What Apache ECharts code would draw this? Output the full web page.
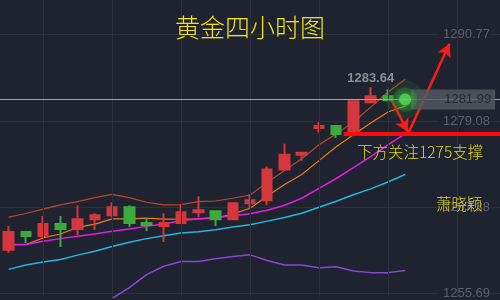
<!DOCTYPE html>
<html>
<head>
<meta charset="utf-8">
<script src="https://cdn.jsdelivr.net/npm/echarts@6/dist/echarts.min.js"></script>
<style>html,body{margin:0;padding:0;background:#1f2330;}#c{width:500px;height:300px;}</style>
</head>
<body>
<div id="c"></div>
<script>
// ---- data ----
const categories = ['01','02','03','04','05','06','07','08','09','10','11','12','13','14','15','16','17','18','19','20','21','22','23','24','25','26','27','28','29'];
// [open, close, low, high]
const candles = [
 [1261.61,1264.03,1261.20,1264.83],
 [1264.03,1263.49,1262.55,1264.16],
 [1263.49,1265.10,1263.22,1266.18],
 [1265.10,1264.43,1262.01,1266.18],
 [1264.43,1265.77,1263.62,1267.66],
 [1265.77,1266.31,1264.29,1266.58],
 [1266.31,1267.39,1266.04,1268.06],
 [1267.39,1265.24,1264.70,1267.66],
 [1265.24,1264.97,1264.16,1265.91],
 [1264.83,1265.24,1262.68,1266.58],
 [1265.24,1266.71,1265.24,1267.79],
 [1266.71,1266.98,1266.04,1268.86],
 [1266.85,1265.77,1264.83,1266.98],
 [1265.77,1267.92,1265.64,1268.06],
 [1267.92,1268.33,1267.25,1269.13],
 [1268.33,1272.49,1267.66,1272.90],
 [1272.49,1274.51,1272.49,1275.99],
 [1274.51,1274.78,1273.70,1274.91],
 [1278.14,1278.41,1277.47,1278.95],
 [1278.41,1277.33,1276.80,1278.41],
 [1277.47,1281.77,1277.47,1281.90],
 [1281.63,1282.44,1281.63,1283.64],
 [1282.44,1281.90,1281.90,1283.38],
 [1281.90,1281.99,1281.85,1282.05]
];
const maA = [1266.04,1266.54,1267.12,1267.70,1268.15,1268.69,1269.13,1268.69,1268.06,1267.70,1267.75,1268.15,1268.23,1268.60,1269.04,1270.75,1272.36,1273.97,1275.85,1277.33,1278.95,1280.96,1282.98,1284.73];
const maB = [1262.32,1262.32,1263.22,1263.76,1264.66,1265.10,1265.81,1265.81,1265.91,1265.77,1265.77,1265.81,1265.91,1266.45,1267.25,1268.86,1270.48,1271.82,1273.70,1275.59,1277.20,1278.81,1280.29,1281.10];
const maC = [1262.32,1262.32,1262.78,1263.13,1263.45,1263.76,1264.12,1264.43,1264.79,1265.10,1265.54,1265.81,1266.00,1266.22,1266.49,1266.98,1267.66,1268.60,1269.94,1271.28,1272.76,1274.24,1275.85,1277.33];
const maD = [1258.96,1259.55,1259.95,1260.30,1260.89,1261.43,1262.05,1262.64,1263.13,1263.53,1263.89,1264.07,1264.34,1264.70,1265.01,1265.50,1265.98,1266.58,1267.39,1268.19,1269.07,1269.87,1270.81,1271.82];
const maE = [null,null,null,null,null,null,1255.02,1256.50,1258.25,1259.39,1260.03,1260.03,1260.40,1260.71,1260.93,1260.17,1259.55,1259.55,1259.19,1259.32,1258.74,1258.52,1258.52,1258.82];
const yTicks = [1255.69, 1267.38, 1279.08, 1290.77];
const xGridIdx = [2, 6, 10, 14, 18, 22, 26];
const lastPrice = 1281.99;
const lastIdx = 23;
const supportLine = [[19.43, 1277.33], [28.5, 1277.33]];
const arrowDown = [[22.24, 1281.77], [23.16, 1277.60]];
const arrowUp = [[23.22, 1277.60], [25.57, 1289.56]];
const titleText = '黄金四小时图';
const noteText = '下方关注1275支撑';
const authorText = '萧晓颖';
const yMin = 1255.15, yMax = 1295.48;

const chart = echarts.init(document.getElementById('c'), null, {renderer: 'canvas'});
const yellow = '#efe31c';
const cjk = "'Noto Sans CJK SC Light', 'Noto Sans CJK SC', sans-serif";
const arrowStyle = {color: '#ff1a1a', width: 2.5, type: 'solid'};

chart.setOption({
  animation: false,
  backgroundColor: '#1f2330',
  title: [
    {text: titleText, left: 'center', top: 15, padding: 0,
     textStyle: {color: yellow, fontSize: 25, fontWeight: 300, fontFamily: cjk}},
    {text: noteText, left: 357, top: 144, padding: 0,
     textStyle: {color: '#e3d91e', fontSize: 15.5, fontWeight: 300, fontFamily: cjk}},
    {text: authorText, left: 436, top: 196, padding: 0,
     textStyle: {color: '#e3d91e', fontSize: 15.5, fontWeight: 300, fontFamily: cjk}}
  ],
  grid: {left: -3.7, top: 0, width: 504.6, height: 300},
  xAxis: [
    {type: 'category', data: categories, boundaryGap: true, show: false},
    {type: 'value', min: -0.5, max: 28.5, show: false}
  ],
  yAxis: {
    type: 'value', position: 'right', min: yMin, max: yMax,
    axisLine: {show: false},
    axisTick: {show: false, customValues: yTicks},
    axisLabel: {customValues: yTicks, inside: true, margin: 10, color: '#5c606a', fontSize: 13,
      fontFamily: 'Liberation Sans', backgroundColor: '#1f2330', padding: [0, 0, 0, 5],
      formatter: v => v.toFixed(2)},
    splitLine: {show: true, lineStyle: {color: '#2c303c', width: 1}}
  },
  series: [
    {type: 'line', xAxisIndex: 1, data: [], z: 1, silent: true,
     markLine: {silent: true, symbol: 'none', label: {show: false},
       lineStyle: {color: '#2c303c', width: 1, type: 'solid'},
       data: xGridIdx.map(v => ({xAxis: v}))}},
    {type: 'line', xAxisIndex: 1, data: [], z: 2, silent: true,
     markLine: {silent: true, symbol: 'none', label: {show: false},
       lineStyle: {color: '#a9a9ab', width: 1, type: 'solid'},
       data: [{yAxis: lastPrice}]}},
    {type: 'line', data: maA, symbol: 'none', z: 3, lineStyle: {color: '#bd452c', width: 1.2}},
    {type: 'line', data: maB, symbol: 'none', z: 3, lineStyle: {color: '#ef7c10', width: 1.2}},
    {type: 'line', data: maC, symbol: 'none', z: 3, lineStyle: {color: '#e41de4', width: 1.5}},
    {type: 'line', data: maD, symbol: 'none', z: 3, lineStyle: {color: '#22b6df', width: 1.5}},
    {type: 'line', data: maE, symbol: 'none', z: 3, lineStyle: {color: '#8a45da', width: 1.5}},
    {type: 'candlestick', data: candles, barWidth: 10, z: 4, clip: false,
     itemStyle: {color: '#d4373c', color0: '#3daa3d', borderColor: '#d4373c', borderColor0: '#3daa3d', borderWidth: 2},
     markPoint: {symbol: 'circle', symbolSize: 1, itemStyle: {color: 'rgba(0,0,0,0)'},
       label: {show: true, position: 'top', distance: 2, color: '#8b8e95', fontSize: 13, fontWeight: 'bold',
         fontFamily: 'Liberation Sans', formatter: p => Number(p.value).toFixed(2)},
       data: [{type: 'max', valueDim: 'highest'}]}},
    {type: 'line', xAxisIndex: 1, data: [], z: 6, silent: true,
     markLine: {silent: true, label: {show: false},
       data: [
         [{coord: supportLine[0], symbol: 'none', lineStyle: {color: '#ff0a0a', width: 4, type: 'solid'}},
          {coord: supportLine[1], symbol: 'none'}],
         [{coord: arrowDown[0], symbol: 'none', lineStyle: arrowStyle},
          {coord: arrowDown[1], symbol: 'arrow', symbolSize: [11, 13]}],
         [{coord: arrowUp[0], symbol: 'none', lineStyle: arrowStyle},
          {coord: arrowUp[1], symbol: 'arrow', symbolSize: [11, 13]}]
       ]}},
    {type: 'scatter', xAxisIndex: 1, z: 7, silent: true, symbolSize: 0,
     data: [[lastIdx, lastPrice]],
     label: {show: true, position: 'right', distance: 6, formatter: () => lastPrice.toFixed(2),
       backgroundColor: '#555963', color: '#1c1e25', fontSize: 13, fontFamily: 'Liberation Sans',
       padding: [4, 4, 3, 33], lineHeight: 13}},
    {type: 'scatter', xAxisIndex: 1, z: 8, silent: true,
     data: [
       {value: [lastIdx, lastPrice], symbolSize: 38, itemStyle: {color: 'rgba(45,130,50,0.22)'}},
       {value: [lastIdx, lastPrice], symbolSize: 24, itemStyle: {color: 'rgba(55,160,60,0.35)'}},
       {value: [lastIdx, lastPrice], symbolSize: 12, itemStyle: {color: '#55d455', shadowBlur: 8, shadowColor: '#44ee44'}}
     ]}
  ]
});
</script>
</body>
</html>
